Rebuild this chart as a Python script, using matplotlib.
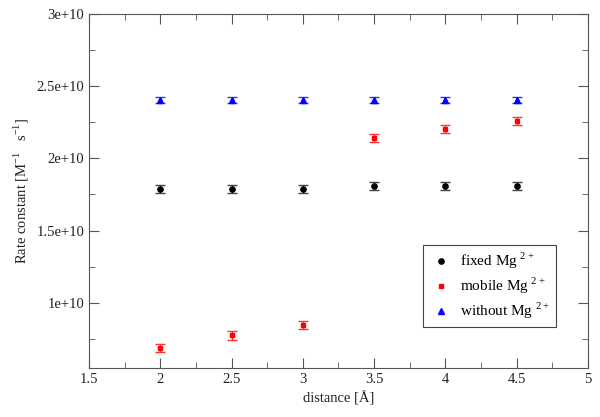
import matplotlib
matplotlib.use("Agg")
import matplotlib.pyplot as plt
from matplotlib.ticker import MultipleLocator, FuncFormatter
from matplotlib.lines import Line2D

plt.rcParams['font.family'] = ['Liberation Serif', 'DejaVu Serif']
plt.rcParams['mathtext.fontset'] = 'custom'
plt.rcParams['mathtext.rm'] = 'Liberation Serif'

distance = [2.0, 2.5, 3.0, 3.5, 4.0, 4.5]
fixed = [1.785e10, 1.785e10, 1.79e10, 1.805e10, 1.805e10, 1.805e10]
fixed_err = [2.8e8, 2.8e8, 2.8e8, 2.8e8, 2.8e8, 2.8e8]
mobile = [6.9e9, 7.75e9, 8.45e9, 2.14e10, 2.205e10, 2.255e10]
mobile_err = [2.8e8, 2.8e8, 2.8e8, 2.8e8, 2.8e8, 2.8e8]
without = [2.403e10, 2.403e10, 2.403e10, 2.403e10, 2.403e10, 2.403e10]
without_err = [2.3e8, 2.3e8, 2.3e8, 2.3e8, 2.3e8, 2.3e8]

labels = ['fixed Mg$^{\\ 2+}$', 'mobile Mg$^{\\ 2+}$', 'without Mg$^{\\ 2+}$']

fig = plt.figure(figsize=(6, 4.17), dpi=100)
ax = fig.add_axes([0.1483, 0.1175, 0.8317, 0.850])

eb = dict(ls='none', capsize=3.6, elinewidth=1, capthick=1)
ax.errorbar(distance, fixed, yerr=fixed_err, fmt='o', color='black', ecolor='#444444', ms=3.8, **eb)
ax.errorbar(distance, mobile, yerr=mobile_err, fmt='s', color='#ff0000', ecolor='#ff3333', ms=3.2, **eb)
ax.errorbar(distance, without, yerr=without_err, fmt='^', color='#0000ff', ecolor='#3333ff', ms=3.8, **eb)

ax.set_xlim(1.5, 5)
ax.set_ylim(5.5e9, 3e10)
ax.xaxis.set_major_locator(MultipleLocator(0.5))
ax.xaxis.set_minor_locator(MultipleLocator(0.25))
ax.yaxis.set_major_locator(MultipleLocator(5e9))
ax.yaxis.set_minor_locator(MultipleLocator(2.5e9))

def fmt(v, pos):
    s = '%.1e' % v
    mant, ex = s.split('e')
    mant = mant.rstrip('0').rstrip('.')
    return '%se+%d' % (mant, int(ex))
ax.yaxis.set_major_formatter(FuncFormatter(fmt))
ax.xaxis.set_major_formatter(FuncFormatter(lambda v, p: '%g' % v))

ax.tick_params(which='both', direction='in', top=True, right=True, labelsize=10.5,
               color='#555555', labelcolor='#222222')
ax.tick_params(which='major', length=7)
ax.tick_params(which='minor', length=4)
for sp in ax.spines.values():
    sp.set_color('#555555')

ax.set_xlabel('distance [Å]', fontsize=10.5, color='#222222')
ax.set_ylabel('Rate constant [M$^{-1}$   s$^{-1}$]', fontsize=10.5, color='#222222')

handles = [
    Line2D([], [], ls='none', marker='o', color='black', ms=3.8),
    Line2D([], [], ls='none', marker='s', color='#ff0000', ms=3.2),
    Line2D([], [], ls='none', marker='^', color='#0000ff', ms=3.8),
]
leg = ax.legend(handles, labels, loc='lower right', bbox_to_anchor=(0.936, 0.1157), fancybox=False,
                edgecolor='#444444', fontsize=11, handletextpad=0.5, handlelength=1.5,
                borderpad=0.4, labelspacing=0.3, framealpha=1, borderaxespad=0)
leg.get_frame().set_linewidth(0.8)

fig.savefig('out.png', dpi=100)
